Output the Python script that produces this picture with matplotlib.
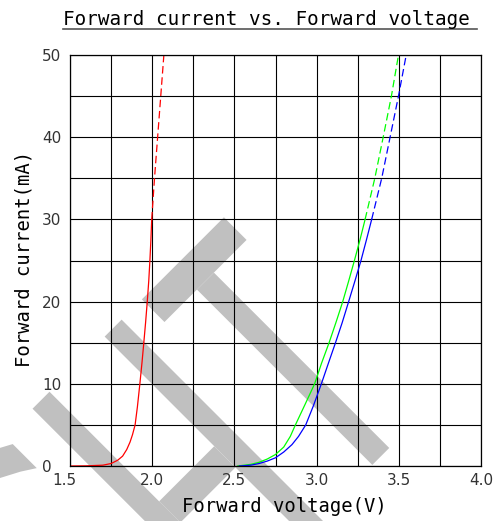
import matplotlib

matplotlib.use("Agg")
import matplotlib.pyplot as plt
import numpy as np
from matplotlib.lines import Line2D
from matplotlib.patches import Polygon
from matplotlib.transforms import ScaledTranslation

# ===== DATA =====
RED_V = [1.50, 1.60, 1.70, 1.75, 1.79, 1.82, 1.845, 1.865, 1.88, 1.896, 1.91, 1.925, 1.938, 1.949, 1.96, 1.97, 1.979, 1.986, 1.992, 1.997]
RED_I = [0.0, 0.02, 0.1, 0.3, 0.7, 1.2, 2.0, 2.9, 3.8, 5.0, 7.2, 10.0, 12.6, 15.0, 17.5, 20.0, 22.5, 25.0, 27.5, 30.0]
RED_EXT_V = [1.997, 2.014, 2.033, 2.052, 2.071]
RED_EXT_I = [30.0, 35.0, 40.0, 45.0, 50.0]

GREEN_V = [2.52, 2.60, 2.65, 2.70, 2.75, 2.80, 2.84, 2.87, 2.93, 2.988, 3.03, 3.076, 3.12, 3.159, 3.195, 3.23, 3.265, 3.295]
GREEN_I = [0.0, 0.2, 0.45, 0.85, 1.4, 2.3, 3.6, 4.95, 7.5, 10.0, 12.5, 15.0, 17.6, 20.0, 22.5, 25.0, 27.6, 30.0]
GREEN_EXT_V = [3.295, 3.354, 3.405, 3.455, 3.498]
GREEN_EXT_I = [30.0, 35.0, 40.0, 45.0, 50.0]

BLUE_V = [2.53, 2.60, 2.65, 2.70, 2.75, 2.80, 2.85, 2.89, 2.934, 2.98, 3.029, 3.07, 3.115, 3.155, 3.195, 3.233, 3.27, 3.303, 3.335]
BLUE_I = [0.0, 0.1, 0.3, 0.6, 1.0, 1.7, 2.6, 3.6, 5.0, 7.3, 10.0, 12.4, 15.0, 17.4, 20.0, 22.5, 25.0, 27.5, 30.0]
BLUE_EXT_V = [3.335, 3.396, 3.447, 3.498, 3.545]
BLUE_EXT_I = [30.0, 35.0, 40.0, 45.0, 50.0]

X_TICKS = [1.5, 2.0, 2.5, 3.0, 3.5, 4.0]
X_TICK_LABELS = ["1.5", "2.0", "2.5", "3.0", "3.5", "4.0"]
Y_TICKS = [0, 10, 20, 30, 40, 50]
Y_TICK_LABELS = ["0", "10", "20", "30", "40", "50"]

TITLE = "Forward current vs. Forward voltage"
X_LABEL = "Forward voltage(V)"
Y_LABEL = "Forward current(mA)"

# ===== LAYOUT (pixels of the 500x521 canvas) =====
FIG_W_PX = 500
FIG_H_PX = 521
DPI = 100
AX_LEFT, AX_RIGHT, AX_TOP, AX_BOTTOM = 70, 481, 55, 466

MONO_FONT = "DejaVu Sans Mono"
TICK_FONT = "DejaVu Sans"
WATERMARK_COLOR = "#c0c0c0"
# =========================


def px_to_fig(x: float, y: float) -> tuple[float, float]:
    return x / FIG_W_PX, 1.0 - y / FIG_H_PX


def letter_to_fig(u, v) -> np.ndarray:
    # watermark letters live in a frame turned 45 degrees (baseline runs up to the right)
    u = np.asarray(u, dtype=float)
    v = np.asarray(v, dtype=float)
    x = (u - v) / np.sqrt(2)
    y = (-u - v) / np.sqrt(2)
    return np.column_stack([x / FIG_W_PX, 1.0 - y / FIG_H_PX])


def rect(u0: float, u1: float, v0: float, v1: float) -> np.ndarray:
    return letter_to_fig([u0, u1, u1, u0], [v0, v0, v1, v1])


def draw_watermark(fig: plt.Figure) -> None:
    # only the upper right corner of the "G" shows on the canvas
    g_u = [-305, -318, -338, -380, -420, -420, -380, -338, -319, -305]
    g_v = [-323, -316, -311, -309, -320, -350, -337, -338, -348, -357]
    shapes = [
        letter_to_fig(g_u, g_v),
        # H
        rect(-266, -242, -640, -312),
        rect(-164, -140, -640, -312),
        rect(-242, -164, -497, -467),
        # T
        rect(-111.4, 4.7, -344, -312),
        rect(-65.5, -41.5, -592, -344),
    ]
    for verts in shapes:
        fig.add_artist(Polygon(verts, closed=True, transform=fig.transFigure,
                               facecolor=WATERMARK_COLOR, edgecolor="none", zorder=-1))


def main() -> None:
    fig = plt.figure(figsize=(FIG_W_PX / DPI, FIG_H_PX / DPI), dpi=DPI, facecolor="white")
    left, bottom = px_to_fig(AX_LEFT, AX_BOTTOM)
    right, top = px_to_fig(AX_RIGHT, AX_TOP)
    ax = fig.add_axes([left, bottom, right - left, top - bottom])
    ax.set_facecolor("none")

    draw_watermark(fig)

    line_kw = {"linewidth": 0.9, "solid_joinstyle": "round"}
    dash_kw = {"linewidth": 0.9, "dashes": (6, 3)}
    ax.plot(RED_V, RED_I, color="#ff0000", **line_kw)
    ax.plot(RED_EXT_V, RED_EXT_I, color="#ff0000", **dash_kw)
    ax.plot(GREEN_V, GREEN_I, color="#00ff00", **line_kw)
    ax.plot(GREEN_EXT_V, GREEN_EXT_I, color="#00ff00", **dash_kw)
    ax.plot(BLUE_V, BLUE_I, color="#0000ff", **line_kw)
    ax.plot(BLUE_EXT_V, BLUE_EXT_I, color="#0000ff", **dash_kw)

    ax.set_xlim(1.5, 4.0)
    ax.set_ylim(0, 50)
    ax.set_xticks(X_TICKS)
    ax.set_xticklabels(X_TICK_LABELS, fontfamily=TICK_FONT, fontsize=11, color="#333333")
    ax.set_xticks(np.arange(1.75, 4.0, 0.5), minor=True)
    ax.set_yticks(Y_TICKS)
    ax.set_yticklabels(Y_TICK_LABELS, fontfamily=TICK_FONT, fontsize=11, color="#333333")
    ax.set_yticks(np.arange(5, 50, 10), minor=True)
    ax.tick_params(which="both", length=0)
    ax.tick_params(axis="x", pad=5)
    ax.tick_params(axis="y", pad=20)
    for lbl in ax.get_yticklabels():
        lbl.set_horizontalalignment("left")
    first = ax.get_xticklabels()[0]
    first.set_transform(first.get_transform() + ScaledTranslation(-6 / DPI, 0, fig.dpi_scale_trans))

    ax.grid(True, which="both", color="black", linewidth=0.8)
    ax.set_axisbelow(True)
    for spine in ax.spines.values():
        spine.set_color("black")
        spine.set_linewidth(0.9)

    ax.set_xlabel(X_LABEL, fontfamily=MONO_FONT, fontsize=13.6, va="center")
    ax.xaxis.set_label_coords((284 - AX_LEFT) / (AX_RIGHT - AX_LEFT), (AX_BOTTOM - 506) / (AX_BOTTOM - AX_TOP))
    ax.set_ylabel(Y_LABEL, fontfamily=MONO_FONT, fontsize=13.6, va="center")
    ax.yaxis.set_label_coords((24 - AX_LEFT) / (AX_RIGHT - AX_LEFT), (AX_BOTTOM - 259) / (AX_BOTTOM - AX_TOP))

    tx, ty = px_to_fig(63, 25)
    fig.text(tx, ty, TITLE, ha="left", va="baseline", fontfamily=MONO_FONT, fontsize=13.9)
    ux0, uy = px_to_fig(63, 28.5)
    ux1, _ = px_to_fig(477, 28.5)
    fig.add_artist(Line2D([ux0, ux1], [uy, uy], transform=fig.transFigure, color="#555555", linewidth=1.2))

    fig.savefig("out.png", dpi=DPI, facecolor="white")


if __name__ == "__main__":
    main()
